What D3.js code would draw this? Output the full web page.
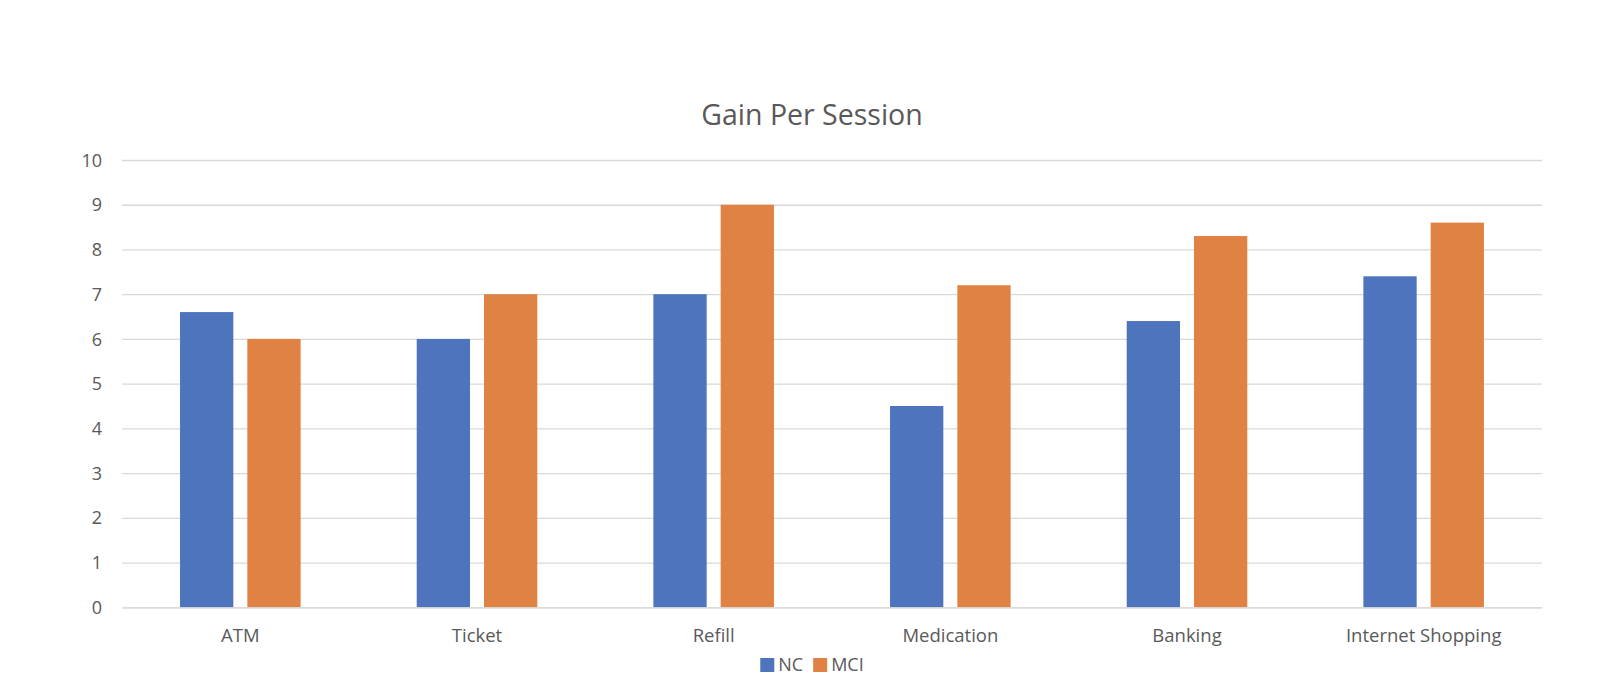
<!DOCTYPE html>
<html>
<head>
<meta charset="utf-8">
<script src="https://cdn.jsdelivr.net/npm/d3@7"></script>
<style>
  html, body { margin: 0; padding: 0; background: #ffffff; }
  svg { display: block; }
  text { font-family: "Open Sans", "Noto Sans", sans-serif; fill: #595959; }
</style>
</head>
<body>
<svg id="chart" width="1624" height="679"></svg>
<script>
const title = "Gain Per Session";
const categories = ["ATM", "Ticket", "Refill", "Medication", "Banking", "Internet Shopping"];
const seriesNames = ["NC", "MCI"];
const ncValues = [6.6, 6.0, 7.0, 4.5, 6.4, 7.4];
const mciValues = [6.0, 7.0, 9.0, 7.2, 8.3, 8.6];
const yTicks = [0, 1, 2, 3, 4, 5, 6, 7, 8, 9, 10];
const colors = ["#4E74BE", "#E08244"];

const W = 1624, H = 679;
const plot = { left: 122, right: 1542, top: 160, bottom: 607.3 };

const svg = d3.select("#chart");

const x0 = d3.scaleBand().domain(categories).range([plot.left, plot.right]).paddingInner(0).paddingOuter(0);
const x1 = d3.scaleBand().domain(seriesNames).range([0, x0.bandwidth()]).paddingInner(0.208).paddingOuter(0.8625);
const y = d3.scaleLinear().domain([0, 10]).range([plot.bottom, plot.top]);
const color = d3.scaleOrdinal().domain(seriesNames).range(colors);

// Title
svg.append("text")
  .attr("x", W / 2)
  .attr("y", 125)
  .attr("text-anchor", "middle")
  .style("font-size", "28.5px")
  .text(title);

// Gridlines + y labels
const yAxis = d3.axisLeft(y).tickValues(yTicks).tickSize(-(plot.right - plot.left)).tickPadding(20).tickFormat(d3.format("d"));
const gy = svg.append("g").attr("transform", `translate(${plot.left},0)`).call(yAxis);
gy.select(".domain").remove();
gy.selectAll(".tick line").attr("stroke", "#D9D9D9").attr("stroke-width", 1.3);
gy.selectAll(".tick text").style("font-size", "18px").attr("fill", "#595959").attr("dy", "0.34em");

// Bars
const rows = categories.map((c, i) => ({ category: c, values: [ncValues[i], mciValues[i]] }));
const groups = svg.append("g").selectAll("g")
  .data(rows).join("g")
  .attr("transform", d => `translate(${x0(d.category)},0)`);
groups.selectAll("rect")
  .data(d => seriesNames.map((s, j) => ({ series: s, value: d.values[j] })))
  .join("rect")
  .attr("x", d => x1(d.series))
  .attr("width", x1.bandwidth())
  .attr("y", d => y(d.value))
  .attr("height", d => y(0) - y(d.value))
  .attr("fill", d => color(d.series));

// X axis
const xAxis = d3.axisBottom(x0).tickSize(0).tickPadding(22);
const gx = svg.append("g").attr("transform", `translate(0,${plot.bottom})`).call(xAxis);
gx.select(".domain").attr("stroke", "#D9D9D9").attr("stroke-width", 1.3);
gx.selectAll(".tick text").style("font-size", "18.5px").attr("fill", "#595959");

// Legend
const legend = svg.append("g");
const items = legend.selectAll("g").data(seriesNames).join("g");
items.append("rect").attr("width", 14).attr("height", 14).attr("y", 658).attr("fill", d => color(d));
items.append("text").attr("x", 18).attr("y", 671).style("font-size", "18px").text(d => d);
let xpos = 0;
items.each(function () {
  const g = d3.select(this);
  g.attr("transform", `translate(${xpos},0)`);
  xpos += this.getBBox().width + 10;
});
const totalW = xpos - 10;
legend.attr("transform", `translate(${W / 2 - totalW / 2},0)`);
</script>
</body>
</html>
